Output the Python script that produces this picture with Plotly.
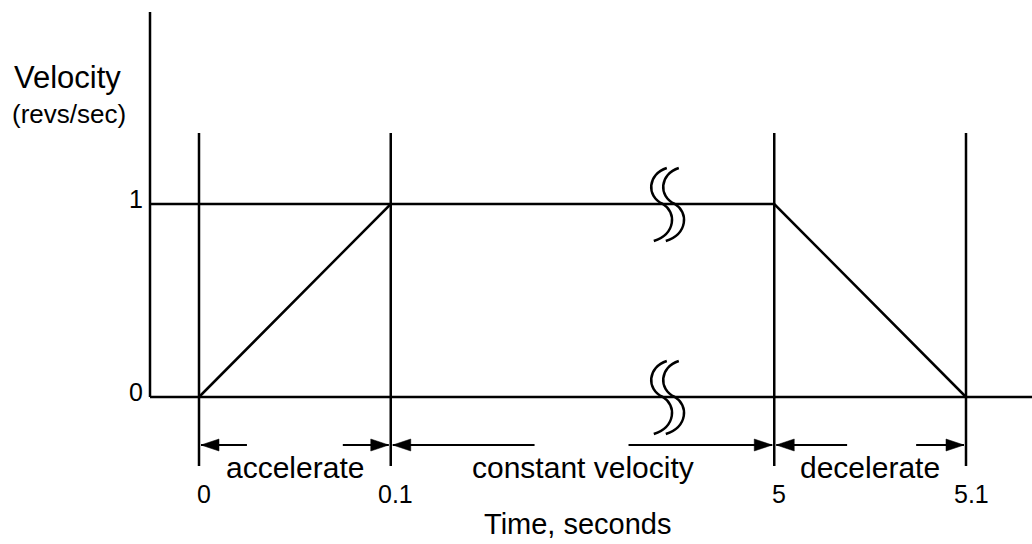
import plotly.graph_objects as go

# Motion profile data
time_s = [0, 0.1, 5, 5.1]
time_labels = ["0", "0.1", "5", "5.1"]
velocity = [0, 1, 1, 0]
v_ticks = [0, 1]
v_tick_labels = ["0", "1"]
phases = ["accelerate", "constant velocity", "decelerate"]

# Broken time axis: 0..0.1 and 5..5.1 each get one unit, one unit of gap between them
def tpos(t):
    if t <= 0.1:
        return t / 0.1
    return 3 + (t - 5) / 0.1

W, H = 1032, 544
X0_PX, Y0_PX = 199, 397          # pixel position of t=0, v=0
PX_X, PX_Y = 191.75, 193.0        # pixels per unit
xr = [-X0_PX / PX_X, (W - X0_PX) / PX_X]
yr = [-(H - Y0_PX) / PX_Y, Y0_PX / PX_Y]

def dx(p):
    return p / PX_X

def dy(p):
    return p / PX_Y

BLACK = "black"
LW = 2.5
FONT = "Liberation Sans, Arial, sans-serif"

axis_x = dx(150 - X0_PX)
axis_top = dy(Y0_PX - 12)
guide_top = dy(Y0_PX - 133)
guide_bot = -dy(466 - Y0_PX)
break_x = 2.45

xs = [tpos(t) for t in time_s]

fig = go.Figure()

def line(x, y, width=LW):
    fig.add_trace(go.Scatter(x=x, y=y, mode="lines",
                             line=dict(color=BLACK, width=width),
                             hoverinfo="skip", showlegend=False))

# axes
line([axis_x, axis_x], [0, axis_top])
line([axis_x, xr[1]], [0, 0])
# reference line at v = 1 from the axis to the end of acceleration
line([axis_x, xs[1]], [1, 1])
# vertical guides at each time mark
for x in xs:
    line([x, x], [guide_bot, guide_top])
# velocity profile
line(xs, velocity)

# phase dimension arrows
arrow_y = -dy(445 - Y0_PX)
tail_frac = [(0.25, 0.75), (0.375, 0.62), (0.38, 0.74)]
head_len, head_half, tip_gap = dx(18), dy(6), dx(2)
tri_x, tri_y = [], []
for i, name in enumerate(phases):
    a, b = xs[i], xs[i + 1]
    span = b - a
    fa, fb = tail_frac[i]
    # left arrow pointing to a, right arrow pointing to b
    line([a + tip_gap, a + fa * span], [arrow_y, arrow_y], width=2.2)
    line([a + fb * span, b - tip_gap], [arrow_y, arrow_y], width=2.2)
    for tip, d in ((a + tip_gap, 1), (b - tip_gap, -1)):
        tri_x += [tip, tip + d * head_len, tip + d * head_len, tip, None]
        tri_y += [arrow_y, arrow_y + head_half, arrow_y - head_half, arrow_y, None]
    fig.add_annotation(x=(a + b) / 2, y=-dy(467.5 - Y0_PX), text=name,
                       showarrow=False, xanchor="center", yanchor="middle",
                       font=dict(family=FONT, size=30, color=BLACK))
fig.add_trace(go.Scatter(x=tri_x, y=tri_y, mode="lines", fill="toself",
                         fillcolor=BLACK, line=dict(color=BLACK, width=0.5),
                         hoverinfo="skip", showlegend=False))

# time tick labels
for x, lab in zip(xs, time_labels):
    fig.add_annotation(x=x, y=-dy(494 - Y0_PX), text=lab, showarrow=False,
                       xanchor="center", yanchor="middle", xshift=5,
                       font=dict(family=FONT, size=25, color=BLACK))

# velocity tick labels
for v, lab in zip(v_ticks, v_tick_labels):
    fig.add_annotation(x=axis_x, y=v, text=lab, showarrow=False,
                       xanchor="right", yanchor="middle", xshift=-5, yshift=5,
                       font=dict(family=FONT, size=25, color=BLACK))

# axis titles
fig.add_annotation(x=67 / W, y=1 - 77 / H, xref="paper", yref="paper",
                   text="Velocity", showarrow=False, xanchor="center", yanchor="middle",
                   font=dict(family=FONT, size=31, color=BLACK))
fig.add_annotation(x=69 / W, y=1 - 114 / H, xref="paper", yref="paper",
                   text="(revs/sec)", showarrow=False, xanchor="center", yanchor="middle",
                   font=dict(family=FONT, size=26, color=BLACK))
fig.add_annotation(x=578 / W, y=1 - 524 / H, xref="paper", yref="paper",
                   text="Time, seconds", showarrow=False, xanchor="center", yanchor="middle",
                   font=dict(family=FONT, size=29, color=BLACK))

# axis-break marks: two S curves crossing each horizontal line
def s_path(cx, cy):
    pts = [(4, -36), (-15, -30), (-17, -8), (0, 0), (14, 8), (13, 30), (-9, 37)]
    P = [(cx + dx(px), cy - dy(py)) for px, py in pts]
    f = lambda p: f"{p[0]:.5f},{p[1]:.5f}"
    return (f"M {f(P[0])} C {f(P[1])} {f(P[2])} {f(P[3])} "
            f"C {f(P[4])} {f(P[5])} {f(P[6])}")

for level in (1, 0):
    for off in (-6, 6):
        fig.add_shape(type="path", path=s_path(break_x + dx(off), level),
                      xref="x", yref="y", line=dict(color=BLACK, width=LW))

fig.update_layout(
    width=W, height=H, margin=dict(l=0, r=0, t=0, b=0),
    paper_bgcolor="white", plot_bgcolor="white",
    xaxis=dict(range=xr, visible=False, fixedrange=True),
    yaxis=dict(range=yr, visible=False, fixedrange=True),
    showlegend=False,
)

fig.write_html("out.html")
